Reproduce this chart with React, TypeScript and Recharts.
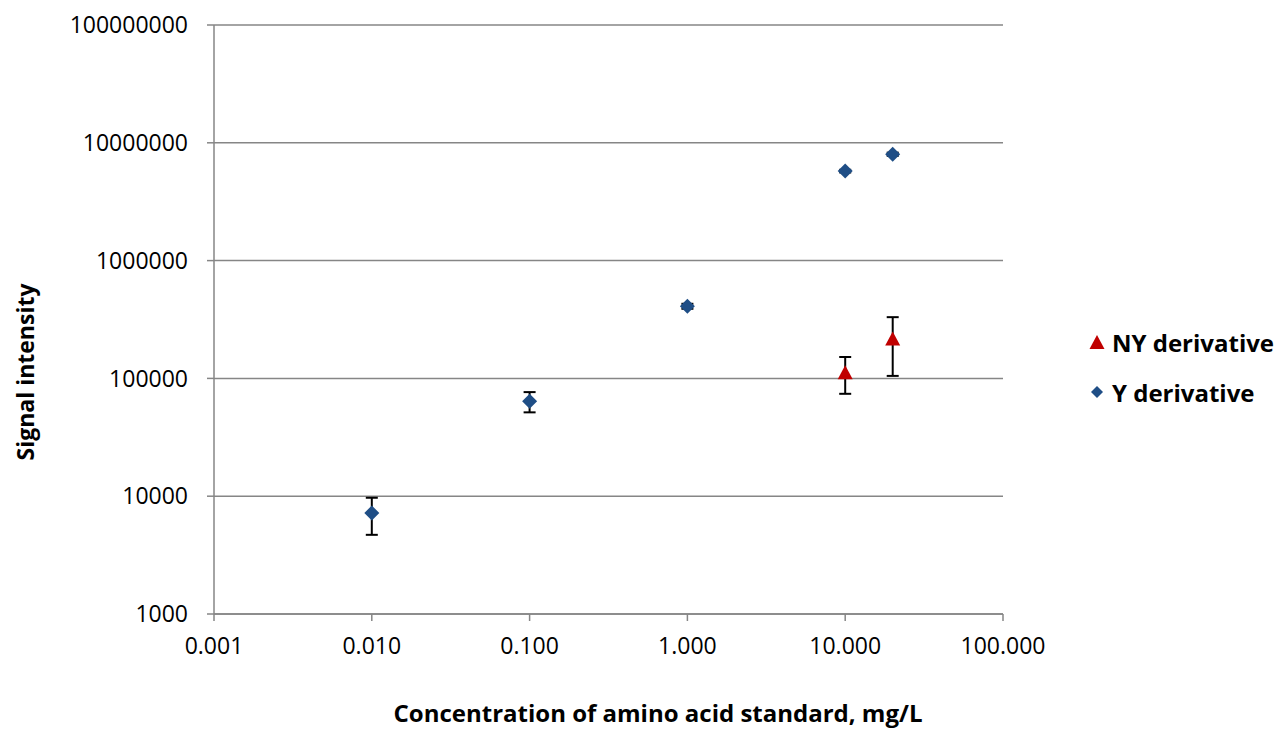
import React from "react";
import {
  ScatterChart,
  Scatter,
  XAxis,
  YAxis,
  CartesianGrid,
  ErrorBar,
  Legend,
} from "recharts";

// concentrations, mg/L
const yConc = [0.01, 0.1, 1, 10, 20];
const ySignal = [7200, 64000, 410000, 5750000, 8000000];
const yErr = [2500, 12500, 20000, 150000, 250000];

const nyConc = [10, 20];
const nySignal = [113000, 218000];
const nyErr = [39000, 113000];

const xTicks = [0.001, 0.01, 0.1, 1, 10, 100];
const yTicks = [1000, 10000, 100000, 1000000, 10000000, 100000000];

const yData = yConc.map((x, i) => ({ x, y: ySignal[i], err: yErr[i] }));
const nyData = nyConc.map((x, i) => ({ x, y: nySignal[i], err: nyErr[i] }));

const FONT = "'Open Sans', sans-serif";
const BLUE = "#1F4E86";
const RED = "#C00000";
const AXIS = "#868686";

const Diamond = (props: any) => {
  const { cx, cy } = props;
  if (cx == null || cy == null) return null;
  const r = 7.5;
  return (
    <polygon
      points={`${cx},${cy - r} ${cx + r},${cy} ${cx},${cy + r} ${cx - r},${cy}`}
      fill={BLUE}
    />
  );
};

const Triangle = (props: any) => {
  const { cx, cy } = props;
  if (cx == null || cy == null) return null;
  return (
    <polygon
      points={`${cx},${cy - 7} ${cx + 7.5},${cy + 7} ${cx - 7.5},${cy + 7}`}
      fill={RED}
    />
  );
};

const legendItems = [
  { name: "NY derivative", shape: "triangle" },
  { name: "Y derivative", shape: "diamond" },
];

const LegendBox = () => (
  <div style={{ fontFamily: FONT, fontWeight: 700, fontSize: 24, color: "#000" }}>
    {legendItems.map((it) => (
      <div
        key={it.name}
        style={{ display: "flex", alignItems: "center", height: 50 }}
      >
        <svg width={16} height={16} style={{ marginRight: 7 }}>
          {it.shape === "triangle" ? (
            <polygon points="8,1 15.5,15 0.5,15" fill={RED} />
          ) : (
            <polygon points="8,2 14,8 8,14 2,8" fill={BLUE} />
          )}
        </svg>
        <span>{it.name}</span>
      </div>
    ))}
  </div>
);

const fmtX = (v: number) => v.toFixed(3);
const fmtY = (v: number) => String(Math.round(v));

export default function App() {
  return (
    <div style={{ position: "absolute", left: 0, top: 0, background: "#fff" }}>
      <ScatterChart
        width={1281}
        height={730}
        margin={{ top: 25, right: 278, bottom: 0, left: 0 }}
      >
        <CartesianGrid
          horizontal
          vertical={false}
          stroke={AXIS}
          strokeWidth={1.5}
        />
        <XAxis
          type="number"
          dataKey="x"
          scale="log"
          domain={[0.001, 100]}
          ticks={xTicks}
          tickFormatter={fmtX}
          allowDataOverflow
          height={116}
          stroke={AXIS}
          strokeWidth={1.5}
          tickSize={7}
          tickMargin={17}
          tick={{ fill: "#000", fontSize: 23, fontFamily: FONT }}
          label={{
            content: () => (
              <text
                x={658}
                y={722}
                textAnchor="middle"
                fontFamily={FONT}
                fontWeight={700}
                fontSize={24}
                fill="#000"
              >
                Concentration of amino acid standard, mg/L
              </text>
            ),
          }}
        />
        <YAxis
          type="number"
          dataKey="y"
          scale="log"
          domain={[1000, 100000000]}
          ticks={yTicks}
          tickFormatter={fmtY}
          allowDataOverflow
          width={214}
          stroke={AXIS}
          strokeWidth={1.5}
          tickSize={7}
          tickMargin={19}
          tick={{ fill: "#000", fontSize: 23, fontFamily: FONT }}
          label={{
            content: () => (
              <text
                x={34}
                y={372}
                textAnchor="middle"
                transform="rotate(-90 34 372)"
                fontFamily={FONT}
                fontWeight={700}
                fontSize={23}
                fill="#000"
              >
                Signal intensity
              </text>
            ),
          }}
        />
        <Legend
          layout="vertical"
          align="center"
          verticalAlign="middle"
          wrapperStyle={{ left: 1089, top: 317, width: 192 }}
          content={() => <LegendBox />}
        />
        <Scatter
          name="NY derivative"
          data={nyData}
          shape={<Triangle />}
          isAnimationActive={false}
        >
          <ErrorBar
            dataKey="err"
            direction="y"
            width={6}
            stroke="#000"
            strokeWidth={2}
          />
        </Scatter>
        <Scatter
          name="Y derivative"
          data={yData}
          shape={<Diamond />}
          isAnimationActive={false}
        >
          <ErrorBar
            dataKey="err"
            direction="y"
            width={6}
            stroke="#000"
            strokeWidth={2}
          />
        </Scatter>
      </ScatterChart>
    </div>
  );
}
